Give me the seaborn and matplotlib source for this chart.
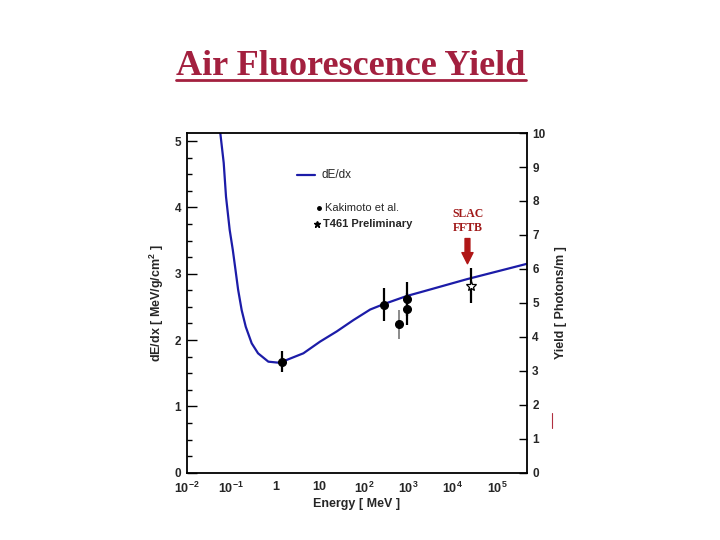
import numpy as np
import pandas as pd
import matplotlib.pyplot as plt
import matplotlib.ticker as mticker
from matplotlib.lines import Line2D
import seaborn as sns

# dE/dx curve
energy = [0.0573, 0.0684, 0.0771, 0.0933, 0.1096, 0.126, 0.1445, 0.174, 0.215, 0.293,
          0.407, 0.695, 1.12, 1.39, 4.29, 10.2, 24.3, 57.5, 138, 275, 933, 1860,
          20900, 468000]
dedx = [5.12, 4.67, 4.16, 3.66, 3.36, 3.06, 2.76, 2.45, 2.20, 1.95,
        1.80, 1.674, 1.66, 1.67, 1.80, 1.976, 2.13, 2.30, 2.46, 2.54, 2.665, 2.72,
        2.917, 3.148]

# Kakimoto et al. points
kak_e = [1.39, 277, 940, 940]
kak_y = [1.674, 2.53, 2.62, 2.47]
kak_err = [0.16, 0.25, 0.26, 0.24]
grey_e = [620]
grey_y = [2.24]
grey_err = [0.22]

# T461 preliminary
t461_e = [26200]
t461_y = [2.816]
t461_err = [0.265]

x_labels = [r'$\mathbf{10^{-2}}$', r'$\mathbf{10^{-1}}$', '1', '10', r'$\mathbf{10^{2}}$',
            r'$\mathbf{10^{3}}$', r'$\mathbf{10^{4}}$', r'$\mathbf{10^{5}}$']
x_ticks = [1e-2, 1e-1, 1, 10, 1e2, 1e3, 1e4, 1e5]

sns.set_style('white')
plt.rcParams['font.family'] = ['Liberation Sans', 'DejaVu Sans']
plt.rcParams['mathtext.fontset'] = 'custom'
plt.rcParams['mathtext.rm'] = 'Liberation Sans:bold'
plt.rcParams['mathtext.bf'] = 'Liberation Sans:bold'

fig = plt.figure(figsize=(7.2, 5.4), dpi=100)
ax = fig.add_axes([0.2593, 0.1246, 0.4722, 0.629])

curve = pd.DataFrame({'energy': energy, 'dedx': dedx})
sns.lineplot(data=curve, x='energy', y='dedx', color='#1c1ca8', lw=1.6, ax=ax,
             legend=False, sort=False)

ax.errorbar(kak_e, kak_y, yerr=kak_err, fmt='o', color='black', ms=5.5, elinewidth=1.6,
            capsize=0, zorder=5)
ax.errorbar(grey_e, grey_y, yerr=grey_err, fmt='o', color='black', ecolor='#8a8a8a',
            ms=5.5, elinewidth=1.4, capsize=0, zorder=5)
ax.errorbar(t461_e, t461_y, yerr=t461_err, fmt='*', color='black', mfc='white',
            ms=7.5, elinewidth=1.6, capsize=0, zorder=5, mew=0.9)

ax.set_xscale('log')
ax.set_xlim(1e-2, 4.68e5)
ax.set_ylim(0, 5.12)
ax.set_xticks(x_ticks)
ax.set_xticklabels(x_labels, fontweight='bold', fontsize=9)
ax.xaxis.set_minor_locator(mticker.LogLocator(base=10, subs=np.arange(2, 10), numticks=20))
ax.xaxis.set_minor_formatter(mticker.NullFormatter())
ax.set_yticks([0, 1, 2, 3, 4, 5])
ax.set_yticklabels(['0', '1', '2', '3', '4', '5'], fontweight='bold', fontsize=8.5)
ax.yaxis.set_minor_locator(mticker.MultipleLocator(0.25))
ax.tick_params(axis='both', which='both', direction='in', color='black', width=1.0)
ax.tick_params(axis='x', which='major', length=7, pad=6)
ax.tick_params(axis='x', which='minor', length=3.5)
ax.tick_params(axis='y', which='major', length=7, pad=4)
ax.tick_params(axis='y', which='minor', length=3.5)
for s in ax.spines.values():
    s.set_color('black')
    s.set_linewidth(1.3)

ax.set_xlabel('Energy [ MeV ]', fontweight='bold', fontsize=9, labelpad=1)
ax.set_ylabel('dE/dx [ MeV/g/cm$^{2}$ ]', fontweight='bold', fontsize=9, labelpad=6)

ax2 = ax.twinx()
ax2.set_ylim(0, 10)
ax2.set_yticks(range(11))
ax2.set_yticklabels([str(i) for i in range(11)], fontweight='bold', fontsize=8.5)
ax2.tick_params(axis='y', direction='in', length=6, width=1.0, pad=4, color='black')
ax2.set_ylabel('Yield [ Photons/m ]', fontweight='bold', fontsize=9, labelpad=7)
for s in ax2.spines.values():
    s.set_visible(False)

# legend drawn by hand like the original
ax.plot([0.3235, 0.3775], [0.876, 0.876], transform=ax.transAxes, color='#1c1ca8', lw=1.6)
ax.text(0.397, 0.876, 'dE/dx', transform=ax.transAxes, fontsize=8.5, va='center')
ax.plot([0.39], [0.778], 'o', transform=ax.transAxes, color='black', ms=2.5)
ax.text(0.407, 0.778, 'Kakimoto et al.', transform=ax.transAxes, fontsize=8, va='center')
ax.plot([0.384], [0.731], '*', transform=ax.transAxes, color='black', ms=4.5)
ax.text(0.401, 0.731, 'T461 Preliminary', transform=ax.transAxes, fontsize=8,
        va='center', fontweight='bold')

# SLAC FFTB arrow
ax.annotate('', xy=(21600, 3.15), xytext=(21600, 3.53),
            arrowprops=dict(arrowstyle='simple,head_width=0.8,head_length=0.8,tail_width=0.35',
                            color='#b01616', mutation_scale=10, shrinkA=0, shrinkB=0))
ax.text(21900, 3.79, 'SLAC\nFFTB', ha='center', va='center', fontsize=8.5,
        multialignment='center', fontweight='bold',
        family=['Liberation Serif'], color='#a01818', linespacing=1.2)

# title
t = fig.text(0.4875, 0.862, 'Air Fluorescence Yield', ha='center', va='baseline',
             fontsize=26, fontweight='bold', family=['Liberation Serif'], color='#a3203f')
fig.canvas.draw()
bb = t.get_window_extent(renderer=fig.canvas.get_renderer())
fx0, fx1 = bb.x0 / fig.bbox.width, bb.x1 / fig.bbox.width
fig.add_artist(Line2D([fx0, fx1], [0.852, 0.852], color='#a3203f', lw=2))

# stray red mark at the right side
fig.add_artist(Line2D([0.7667, 0.7667], [0.2074, 0.2352], color='#b03040', lw=0.8))

fig.savefig('out.png', dpi=100)
